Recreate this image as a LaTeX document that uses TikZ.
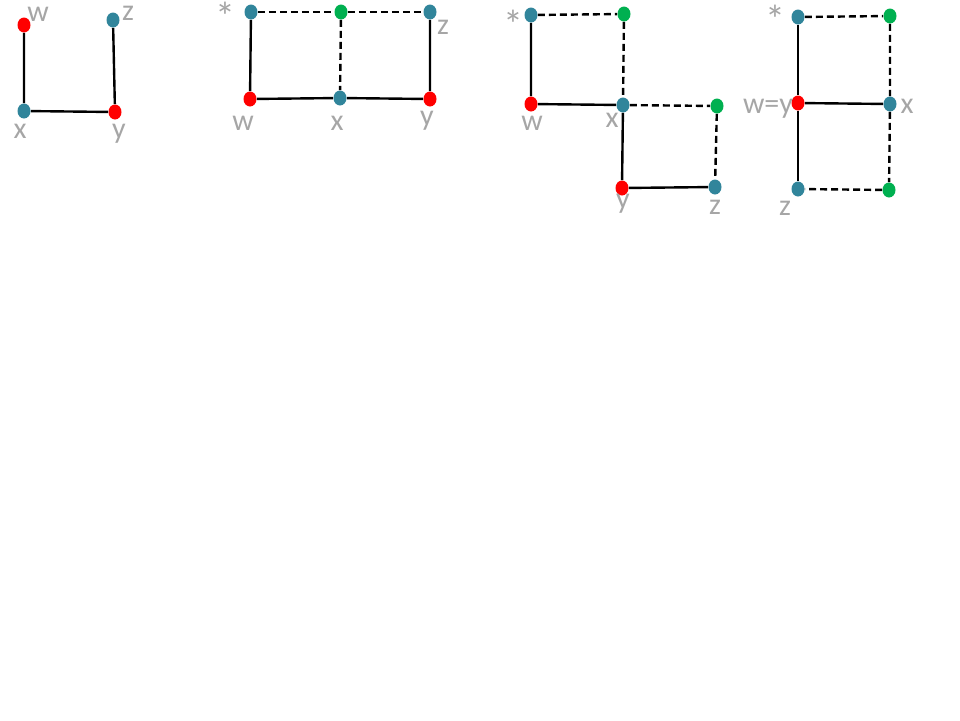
\documentclass[tikz,border=0pt]{standalone}
\usepackage{fontspec}
\setmainfont{Carlito}
\usetikzlibrary{shapes.geometric}
\definecolor{dred}{RGB}{255,0,0}
\definecolor{dteal}{RGB}{49,133,155}
\definecolor{dgreen}{RGB}{0,176,80}
\definecolor{lgrey}{RGB}{166,166,166}
\tikzset{
  dot/.style={ellipse,inner sep=0pt,minimum width=6.5pt,minimum height=7.5pt,draw=none,fill=#1},
  lab/.style={text=lgrey,font=\fontsize{15}{15}\selectfont,inner sep=0pt,text height=7pt,text depth=0pt,anchor=center},
  star/.style={text=lgrey,font=\fontsize{20}{20}\selectfont,inner sep=0pt,anchor=center},
  solidedge/.style={line width=1.2pt,black},
  dashedge/.style={line width=1.2pt,black,dash pattern=on 3.5pt off 2pt}
}
\begin{document}
\begin{tikzpicture}[x=0.5pt,y=-0.5pt]
\useasboundingbox (0,0) rectangle (960,720);
% ---- panel 1
\node[dot=dred] (aw) at (24,25) {};
\node[dot=dteal] (az) at (113,20) {};
\node[dot=dteal] (ax) at (24,111) {};
\node[dot=dred] (ay) at (115,112) {};
\draw[solidedge] (aw) -- (ax) -- (ay);
\draw[solidedge] (az) -- (ay);
\node[lab] (law) at (38,14) {w};
\node[lab] (laz) at (128,13) {z};
\node[lab] (lax) at (20,131) {x};
\node[lab] (lay) at (119,131) {y};
% ---- panel 2
\node[dot=dteal] (bs) at (251,12) {};
\node[dot=dgreen] (bg) at (341,12) {};
\node[dot=dteal] (bz) at (430,12) {};
\node[dot=dred] (bw) at (250,99) {};
\node[dot=dteal] (bx) at (340,98) {};
\node[dot=dred] (by) at (430,99) {};
\draw[solidedge] (bs) -- (bw) -- (bx) -- (by) -- (bz);
\draw[dashedge] (bs) -- (bg) -- (bz);
\draw[dashedge] (bg) -- (bx);
\node[star] (lbs) at (225,16) {*};
\node[lab] (lbz) at (443,27) {z};
\node[lab] (lbw) at (243,123) {w};
\node[lab] (lbx) at (337,123) {x};
\node[lab] (lby) at (427,118) {y};
% ---- panel 3
\node[dot=dteal] (cs) at (531,15) {};
\node[dot=dgreen] (cg) at (624,14) {};
\node[dot=dred] (cw) at (531,104) {};
\node[dot=dteal] (cx) at (623,105) {};
\node[dot=dgreen] (ch) at (717,106) {};
\node[dot=dred] (cy) at (622,188) {};
\node[dot=dteal] (cz) at (715,187) {};
\draw[solidedge] (cs) -- (cw) -- (cx) -- (cy) -- (cz);
\draw[dashedge] (cs) -- (cg) -- (cx) -- (ch) -- (cz);
\node[star] (lcs) at (513,24) {*};
\node[lab] (lcw) at (532,123) {w};
\node[lab] (lcx) at (612,120) {x};
\node[lab] (lcy) at (623,201) {y};
\node[lab] (lcz) at (715,207) {z};
% ---- panel 4
\node[dot=dteal] (ds) at (798,17) {};
\node[dot=dgreen] (dg) at (890,16) {};
\node[dot=dred] (dw) at (798,103) {};
\node[dot=dteal] (dx) at (890,104) {};
\node[dot=dteal] (dz) at (798,189) {};
\node[dot=dgreen] (dh) at (889,190) {};
\draw[solidedge] (ds) -- (dw) -- (dz);
\draw[solidedge] (dw) -- (dx);
\draw[dashedge] (ds) -- (dg) -- (dx) -- (dh) -- (dz);
\node[star] (lds) at (775,19) {*};
\node[lab] (ldw) at (768,106) {w=y};
\node[lab] (ldx) at (907,106) {x};
\node[lab] (ldz) at (785,208) {z};
\end{tikzpicture}
\end{document}
